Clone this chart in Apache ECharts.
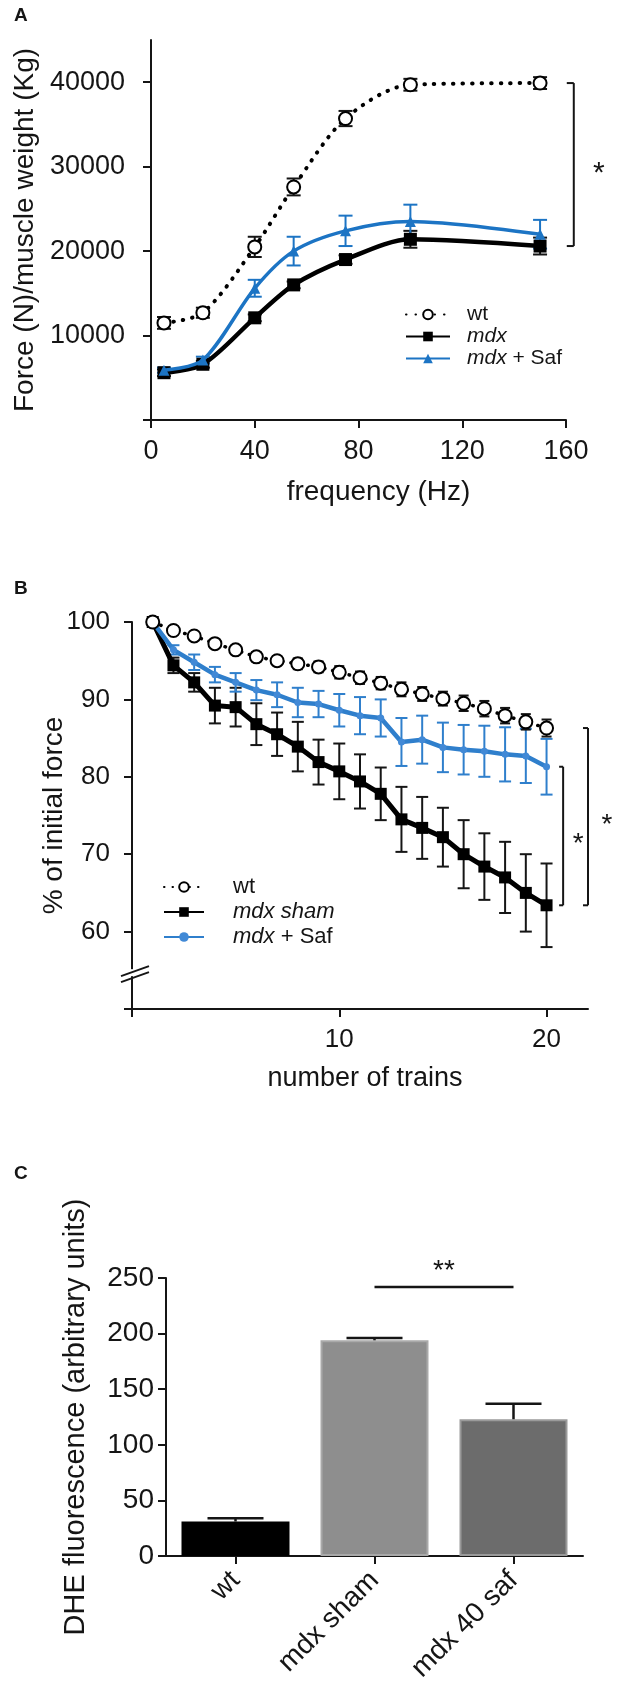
<!DOCTYPE html>
<html><head><meta charset="utf-8">
<script src="https://cdn.jsdelivr.net/npm/echarts@6/dist/echarts.min.js"></script>
<style>html,body{margin:0;padding:0;background:#fff}#c{width:630px;height:1696px}</style>
</head><body><div id="c"></div>
<script>
// ---------- Panel A: force-frequency ----------
const freqHz = [5, 20, 40, 55, 75, 100, 150];
const forceWt = [11500, 12700, 20500, 27600, 35700, 39700, 39900];
const forceWtErr = [700, 600, 1200, 1000, 900, 700, 700];
const forceMdx = [5600, 6600, 12100, 16000, 19000, 21400, 20600];
const forceMdxErr = [400, 400, 400, 400, 500, 1000, 1000];
const forceSaf = [5900, 7100, 15600, 20000, 22400, 23500, 22000];
const forceSafErr = [300, 400, 1000, 1700, 1800, 2000, 1700];
const freqTickVals = [0, 40, 80, 120, 160];
const forceTickVals = [0, 10000, 20000, 30000, 40000];
const forceLabelVals = [10000, 20000, 30000, 40000];

// ---------- Panel B: fatigue ----------
const trains = [1, 2, 3, 4, 5, 6, 7, 8, 9, 10, 11, 12, 13, 14, 15, 16, 17, 18, 19, 20];
const fatWt = [100, 98.9, 98.2, 97.2, 96.4, 95.5, 95.0, 94.6, 94.2, 93.5, 92.8, 92.1, 91.3, 90.7, 90.1, 89.5, 88.8, 87.9, 87.1, 86.3];
const fatWtErr = [0, 0.3, 0.4, 0.5, 0.5, 0.6, 0.6, 0.7, 0.7, 0.8, 0.8, 0.8, 0.9, 0.9, 0.9, 1.0, 1.0, 1.0, 1.0, 1.1];
const fatSham = [100, 94.4, 92.2, 89.2, 89.0, 86.8, 85.5, 83.9, 81.9, 80.7, 79.4, 77.8, 74.5, 73.4, 72.2, 70.0, 68.4, 67.0, 65.0, 63.4];
const fatShamErr = [0, 1.0, 1.2, 2.3, 2.5, 2.7, 2.8, 3.2, 2.9, 3.6, 3.5, 3.4, 4.2, 4.0, 3.8, 4.4, 4.3, 4.6, 5.0, 5.4];
const fatSaf = [100, 96.4, 94.8, 93.2, 92.2, 91.2, 90.6, 89.6, 89.4, 88.6, 87.9, 87.6, 84.5, 84.8, 83.8, 83.5, 83.3, 82.9, 82.7, 81.3];
const fatSafErr = [0, 0.6, 1.0, 1.0, 1.2, 1.3, 1.6, 1.9, 1.7, 2.1, 2.4, 2.4, 3.1, 3.1, 3.2, 3.2, 3.3, 3.5, 3.5, 3.6];
const trainTickVals = [0, 10, 20];
const trainLabelVals = [10, 20];
const pctTickVals = [50, 60, 70, 80, 90, 100];
const pctLabelVals = [60, 70, 80, 90, 100];

// ---------- Panel C: DHE fluorescence ----------
const dheCats = ['wt', 'mdx sham', 'mdx 40 saf'];
const dheVals = [31, 194, 123];
const dheErr = [3, 2, 14];
const dheTickVals = [0, 50, 100, 150, 200, 250];

// annotation anchors (data space)
const bracketAX = 163;
const bracketBInnerX = 20.8;
const bracketBOuterX = 22.0;
const dheSigLevel = 242;

// ---------- styles ----------
const FONT = '"Liberation Sans", Arial, Helvetica, sans-serif';
const INK = '#151515';
const BLUE_A = '#1c74c4';
const BLUE_B = '#2f7fcc';
const BLUE_B_MK = '#4189d6';
const barColors = ['#000000', '#8e8e8e', '#6c6c6c'];
const barBorders = ['#000000', '#a9a9a9', '#9a9a9a'];
const plain = v => String(v);

function merge(a, b) {
  const o = Object.assign({}, a);
  for (const k in b) {
    if (b[k] && typeof b[k] === 'object' && !Array.isArray(b[k]) && a[k] && typeof a[k] === 'object' && !Array.isArray(a[k])) o[k] = merge(a[k], b[k]);
    else o[k] = b[k];
  }
  return o;
}
const axisBase = {
  axisLine: {show: true, onZero: false, lineStyle: {color: INK, width: 2}},
  axisTick: {show: true, inside: false, length: 8, lineStyle: {color: INK, width: 2}},
  splitLine: {show: false},
  axisLabel: {color: INK, fontFamily: FONT},
  nameLocation: 'middle',
  nameMoveOverlap: false,
  nameTextStyle: {color: INK, fontFamily: FONT}
};

function errBar(color, capW, lw, upOnly) {
  return function (params, api) {
    const x = api.value(0), y = api.value(1), e = api.value(2);
    const top = api.coord([x, y + e]);
    const bot = upOnly ? api.coord([x, y]) : api.coord([x, y - e]);
    const h = capW / 2;
    const st = {stroke: color, lineWidth: lw};
    const ch = [
      {type: 'line', shape: {x1: top[0], y1: top[1], x2: bot[0], y2: bot[1]}, style: st},
      {type: 'line', shape: {x1: top[0] - h, y1: top[1], x2: top[0] + h, y2: top[1]}, style: st}
    ];
    if (!upOnly) ch.push({type: 'line', shape: {x1: bot[0] - h, y1: bot[1], x2: bot[0] + h, y2: bot[1]}, style: st});
    return {type: 'group', children: ch};
  };
}
function bracket(tick, starDx, starFs) {
  return function (params, api) {
    const x = api.value(0);
    const p1 = api.coord([x, api.value(1)]);
    const p2 = api.coord([x, api.value(2)]);
    const st = {stroke: INK, lineWidth: 2};
    return {type: 'group', children: [
      {type: 'line', shape: {x1: p1[0], y1: p1[1], x2: p2[0], y2: p2[1]}, style: st},
      {type: 'line', shape: {x1: p1[0] - tick, y1: p1[1], x2: p1[0], y2: p1[1]}, style: st},
      {type: 'line', shape: {x1: p2[0] - tick, y1: p2[1], x2: p2[0], y2: p2[1]}, style: st},
      {type: 'text', style: {text: '*', x: p1[0] + starDx, y: (p1[1] + p2[1]) / 2 + starFs * 0.3,
        fill: INK, font: starFs + 'px ' + FONT, textAlign: 'center', textVerticalAlign: 'middle'}}
    ]};
  };
}
const zip3 = (a, b, c) => a.map((v, i) => [v, b[i], c[i]]);
const zip2 = (a, b) => a.map((v, i) => [v, b[i]]);

const legendNames = {
  A_wt: 'wt', A_mdx: '{i|mdx}', A_saf: '{i|mdx} + Saf',
  B_wt: 'wt', B_sham: '{i|mdx sham}', B_saf: '{i|mdx} + Saf'
};
function legendCfg(names, left, top, fs, itemW, pad, gap) {
  return {
    orient: 'vertical', left: left, top: top, itemWidth: itemW, itemHeight: 12, itemGap: gap,
    selectedMode: false, data: names,
    formatter: n => legendNames[n],
    textStyle: {fontSize: fs, color: INK, fontFamily: FONT, padding: [0, 0, 0, pad],
      rich: {i: {fontStyle: 'italic', fontSize: fs, color: INK, fontFamily: FONT}}}
  };
}

const chart = echarts.init(document.getElementById('c'), null, {renderer: 'canvas'});
const option = {
  backgroundColor: '#fff',
  animation: false,
  title: [
    {text: 'A', left: 9, top: 1, textStyle: {fontSize: 19, fontWeight: 'bold', color: INK, fontFamily: FONT}},
    {text: 'B', left: 9, top: 574, textStyle: {fontSize: 19, fontWeight: 'bold', color: INK, fontFamily: FONT}},
    {text: 'C', left: 9, top: 1159, textStyle: {fontSize: 19, fontWeight: 'bold', color: INK, fontFamily: FONT}}
  ],
  grid: [
    {left: 151, top: 40, width: 415, height: 380},
    {left: 132, top: 622, width: 456, height: 387},
    {left: 166, top: 1278, width: 417, height: 278}
  ],
  legend: [
    legendCfg(['A_wt', 'A_mdx', 'A_saf'], 400, 299, 21, 44, 12, 1),
    legendCfg(['B_wt', 'B_sham', 'B_saf'], 158, 871, 22, 40, 24, 3)
  ],
  xAxis: [
    merge(axisBase, {type: 'value', gridIndex: 0, min: 0, max: 160, interval: 40,
      axisTick: {customValues: freqTickVals}, axisLabel: {customValues: freqTickVals, formatter: plain, fontSize: 27, margin: 18},
      name: 'frequency (Hz)', nameGap: 58, nameTextStyle: {fontSize: 28, padding: [0, 0, 0, 40]}}),
    merge(axisBase, {type: 'value', gridIndex: 1, min: 0, max: 22, interval: 10,
      axisTick: {customValues: trainTickVals}, axisLabel: {customValues: trainLabelVals, formatter: plain, fontSize: 26, margin: 18},
      name: 'number of trains', nameGap: 56, nameTextStyle: {fontSize: 27, padding: [0, 0, 0, 10]}}),
    merge(axisBase, {type: 'category', gridIndex: 2, data: dheCats,
      axisTick: {alignWithLabel: true}, axisLabel: {rotate: 45, fontSize: 28, margin: 20, interval: 0}})
  ],
  yAxis: [
    merge(axisBase, {type: 'value', gridIndex: 0, min: 0, max: 45000, interval: 10000,
      axisTick: {customValues: forceTickVals}, axisLabel: {customValues: forceLabelVals, formatter: plain, fontSize: 27, margin: 26},
      name: 'Force (N)/muscle weight (Kg)', nameGap: 112, nameTextStyle: {fontSize: 28}}),
    merge(axisBase, {type: 'value', gridIndex: 1, min: 50, max: 100, interval: 10,
      axisTick: {customValues: pctTickVals}, axisLabel: {customValues: pctLabelVals, formatter: plain, fontSize: 26, margin: 22},
      name: '% of initial force', nameGap: 64, nameTextStyle: {fontSize: 28}}),
    merge(axisBase, {type: 'value', gridIndex: 2, min: 0, max: 250, interval: 50,
      axisTick: {customValues: dheTickVals}, axisLabel: {customValues: dheTickVals, formatter: plain, fontSize: 28, margin: 12},
      name: 'DHE fluorescence (arbitrary units)', nameGap: 76, nameTextStyle: {fontSize: 29}})
  ],
  series: [
    // ---- Panel A ----
    {type: 'custom', xAxisIndex: 0, yAxisIndex: 0, z: 1, clip: false, encode: {x: 0, y: 1},
      renderItem: errBar(INK, 14, 2), data: zip3(freqHz, forceMdx, forceMdxErr)},
    {type: 'custom', xAxisIndex: 0, yAxisIndex: 0, z: 1, clip: false, encode: {x: 0, y: 1},
      renderItem: errBar(BLUE_A, 14, 2), data: zip3(freqHz, forceSaf, forceSafErr)},
    {type: 'custom', xAxisIndex: 0, yAxisIndex: 0, z: 1, clip: false, encode: {x: 0, y: 1},
      renderItem: errBar(INK, 14, 2), data: zip3(freqHz, forceWt, forceWtErr)},
    {name: 'A_mdx', type: 'line', xAxisIndex: 0, yAxisIndex: 0, smooth: 0.3, z: 3,
      symbol: 'rect', symbolSize: 13, itemStyle: {color: '#000'}, lineStyle: {color: '#000', width: 4.5},
      data: zip2(freqHz, forceMdx)},
    {name: 'A_saf', type: 'line', xAxisIndex: 0, yAxisIndex: 0, smooth: 0.3, z: 4,
      symbol: 'triangle', symbolSize: 11, itemStyle: {color: BLUE_A}, lineStyle: {color: BLUE_A, width: 3.5},
      data: zip2(freqHz, forceSaf)},
    {name: 'A_wt', type: 'line', xAxisIndex: 0, yAxisIndex: 0, smooth: 0.3, z: 5,
      symbol: 'emptyCircle', symbolSize: 13, itemStyle: {color: '#000', borderWidth: 2},
      lineStyle: {color: '#000', width: 4, type: [0.5, 9], cap: 'round'},
      data: zip2(freqHz, forceWt)},
    {type: 'custom', xAxisIndex: 0, yAxisIndex: 0, z: 5, clip: false, encode: {x: 0, y: 1},
      renderItem: bracket(7, 25, 30), data: [[bracketAX, forceWt[forceWt.length - 1], forceMdx[forceMdx.length - 1]]]},

    // ---- Panel B ----
    {type: 'custom', xAxisIndex: 1, yAxisIndex: 1, z: 1, clip: false, encode: {x: 0, y: 1},
      renderItem: errBar(INK, 12, 2), data: zip3(trains, fatSham, fatShamErr)},
    {type: 'custom', xAxisIndex: 1, yAxisIndex: 1, z: 1, clip: false, encode: {x: 0, y: 1},
      renderItem: errBar(BLUE_B, 12, 2), data: zip3(trains, fatSaf, fatSafErr)},
    {type: 'custom', xAxisIndex: 1, yAxisIndex: 1, z: 1, clip: false, encode: {x: 0, y: 1},
      renderItem: errBar(INK, 10, 2), data: zip3(trains, fatWt, fatWtErr)},
    {name: 'B_sham', type: 'line', xAxisIndex: 1, yAxisIndex: 1, z: 3,
      symbol: 'rect', symbolSize: 12, itemStyle: {color: '#000'}, lineStyle: {color: '#000', width: 5},
      data: zip2(trains, fatSham)},
    {name: 'B_saf', type: 'line', xAxisIndex: 1, yAxisIndex: 1, z: 4,
      symbol: 'circle', symbolSize: 7, itemStyle: {color: BLUE_B_MK}, lineStyle: {color: BLUE_B, width: 4.5},
      data: zip2(trains, fatSaf)},
    {name: 'B_wt', type: 'line', xAxisIndex: 1, yAxisIndex: 1, z: 5,
      symbol: 'emptyCircle', symbolSize: 13, itemStyle: {color: '#000', borderWidth: 2},
      lineStyle: {color: '#000', width: 3.5, type: [0.5, 8], cap: 'round'},
      data: zip2(trains, fatWt)},
    {type: 'custom', xAxisIndex: 1, yAxisIndex: 1, z: 5, clip: false, encode: {x: 0, y: 1},
      renderItem: bracket(4, 15, 28), data: [[bracketBInnerX, fatSaf[fatSaf.length - 1], fatSham[fatSham.length - 1]]]},
    {type: 'custom', xAxisIndex: 1, yAxisIndex: 1, z: 5, clip: false, encode: {x: 0, y: 1},
      renderItem: bracket(5, 19, 28), data: [[bracketBOuterX, fatWt[fatWt.length - 1], fatSham[fatSham.length - 1]]]},

    // ---- Panel C ----
    {type: 'bar', xAxisIndex: 2, yAxisIndex: 2, barWidth: 108, z: 2,
      data: dheVals.map((v, i) => ({value: v, itemStyle: {color: barColors[i], borderColor: barBorders[i], borderWidth: 2}}))},
    {type: 'custom', xAxisIndex: 2, yAxisIndex: 2, z: 3, clip: false, encode: {x: 0, y: 1},
      renderItem: errBar(INK, 56, 2.5, true), data: dheVals.map((v, i) => [i, v, dheErr[i]])},
    {type: 'custom', xAxisIndex: 2, yAxisIndex: 2, z: 3, clip: false, encode: {x: 0, y: 1},
      renderItem: function (params, api) {
        const p1 = api.coord([api.value(0), api.value(1)]);
        const p2 = api.coord([api.value(2), api.value(1)]);
        return {type: 'group', children: [
          {type: 'line', shape: {x1: p1[0], y1: p1[1], x2: p2[0], y2: p2[1]}, style: {stroke: INK, lineWidth: 2.5}},
          {type: 'text', style: {text: '**', x: (p1[0] + p2[0]) / 2, y: p1[1] - 2, fill: INK,
            font: '28px ' + FONT, textAlign: 'center', textVerticalAlign: 'bottom'}}
        ]};
      },
      data: [[1, dheSigLevel, 2]]}
  ]
};
chart.setOption(option);

// axis break marks on panel B's y axis
const bp = chart.convertToPixel({gridIndex: 1}, [0, 54.5]);
chart.setOption({graphic: [
  {type: 'rect', shape: {x: bp[0] - 3, y: bp[1] - 5, width: 6, height: 7}, style: {fill: '#fff'}, z: 100},
  {type: 'line', shape: {x1: bp[0] - 11, y1: bp[1] + 2, x2: bp[0] + 17, y2: bp[1] - 8}, style: {stroke: INK, lineWidth: 2}, z: 101},
  {type: 'line', shape: {x1: bp[0] - 11, y1: bp[1] + 8, x2: bp[0] + 17, y2: bp[1] - 2}, style: {stroke: INK, lineWidth: 2}, z: 101}
]});
</script></body></html>
